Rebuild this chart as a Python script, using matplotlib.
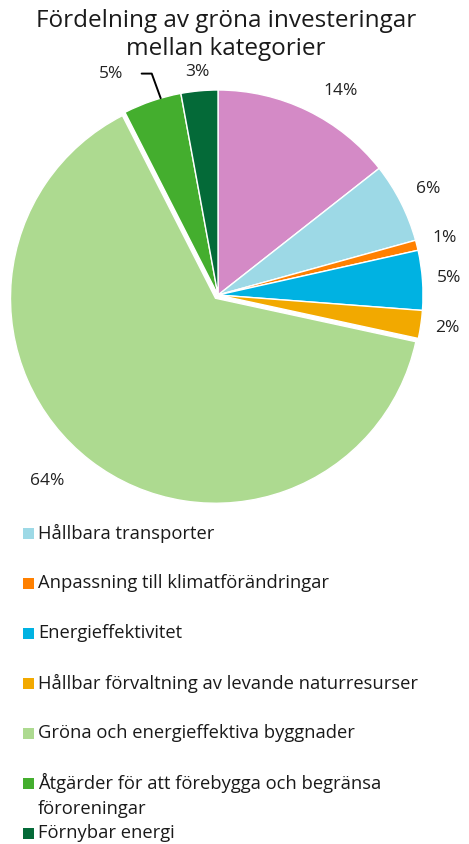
import numpy as np
import matplotlib
matplotlib.use("Agg")
import matplotlib.pyplot as plt
from matplotlib.patches import Rectangle

plt.rcParams["font.family"] = ["Open Sans", "DejaVu Sans"]

TITLE = "Fördelning av gröna investeringar\nmellan kategorier"

# wedge order, clockwise from 12 o'clock
CATEGORIES = [
    "",  # pink slice, not named in the legend
    "Hållbara transporter",
    "Anpassning till klimatförändringar",
    "Energieffektivitet",
    "Hållbar förvaltning av levande naturresurser",
    "Gröna och energieffektiva byggnader",
    "Åtgärder för att förebygga och begränsa\nföroreningar",
    "Förnybar energi",
]
SHARES = [14.4, 6.3, 0.8, 4.7, 2.2, 64.1, 4.6, 2.9]
COLORS = ["#D48AC6", "#9DD9E6", "#FF8000", "#00B2E2", "#F2A900",
          "#ADDA90", "#44AE2E", "#046A38"]
EXPLODE = [0, 0, 0, 0, 0, 0.02, 0, 0]

# label placement per wedge: radius (in pie radii) and angle shift (deg)
LABEL_R = [1.16, 1.15, 1.14, 1.13, 1.13, 1.23, 1.2, 1.09]
LABEL_DA = [-5, 0, 0, 0, 0, -5, 0, 0]

W, H = 469, 844


def main():
    fig = plt.figure(figsize=(W / 100, H / 100), dpi=100)

    # pie axes: centre ~ (218, 295) px, radius ~205 px
    cx, cy, half = 218, 295, 230
    ax = fig.add_axes([(cx - half) / W, (H - cy - half) / H, 2 * half / W, 2 * half / H])
    wedges, _ = ax.pie(
        SHARES,
        colors=COLORS,
        explode=EXPLODE,
        startangle=90,
        counterclock=False,
        wedgeprops={"edgecolor": "white", "linewidth": 1.0},
    )
    lim = half / 205
    ax.set_xlim(-lim, lim)
    ax.set_ylim(-lim, lim)
    ax.set_aspect("equal")
    ax.axis("off")

    total = sum(SHARES)
    for i, (w, share) in enumerate(zip(wedges, SHARES)):
        mid = np.deg2rad((w.theta1 + w.theta2) / 2 + LABEL_DA[i])
        txt = f"{share / total * 100:.0f}%"
        r = LABEL_R[i]
        x, y = r * np.cos(mid), r * np.sin(mid)
        if i == 6:
            # leader line from label to wedge edge
            edge = np.deg2rad(w.theta1 + (w.theta2 - w.theta1) * 0.35)
            ax.annotate(
                txt,
                xy=(np.cos(edge), np.sin(edge)),
                xytext=(-0.52, 1.08),
                ha="center", va="center", fontsize=12.5, color="#222222",
                arrowprops=dict(arrowstyle="-", color="black", lw=1.4,
                                shrinkA=11, shrinkB=0,
                                connectionstyle="angle,angleA=0,angleB=-70,rad=0"),
            )
            continue
        ax.text(x, y, txt, ha="center", va="center", fontsize=12.5, color="#222222")

    fig.text(0.482, 1 - 35 / H, TITLE, ha="center", va="center",
             fontsize=17.5, linespacing=1.2, color="#1a1a1a")

    # legend, drawn by hand (one entry wraps onto two lines)
    y = 533
    for name, color in zip(CATEGORIES, COLORS):
        if not name:
            continue
        fig.patches.append(Rectangle((23 / W, 1 - (y + 6) / H), 11 / W, 11 / H,
                                     transform=fig.transFigure, facecolor=color,
                                     edgecolor="none"))
        for k, line in enumerate(name.split("\n")):
            fig.text(38 / W, 1 - (y + 26 * k) / H, line, ha="left", va="center",
                     fontsize=13.2, color="#1a1a1a")
        y += 50

    fig.savefig("out.png", dpi=100)


if __name__ == "__main__":
    main()
